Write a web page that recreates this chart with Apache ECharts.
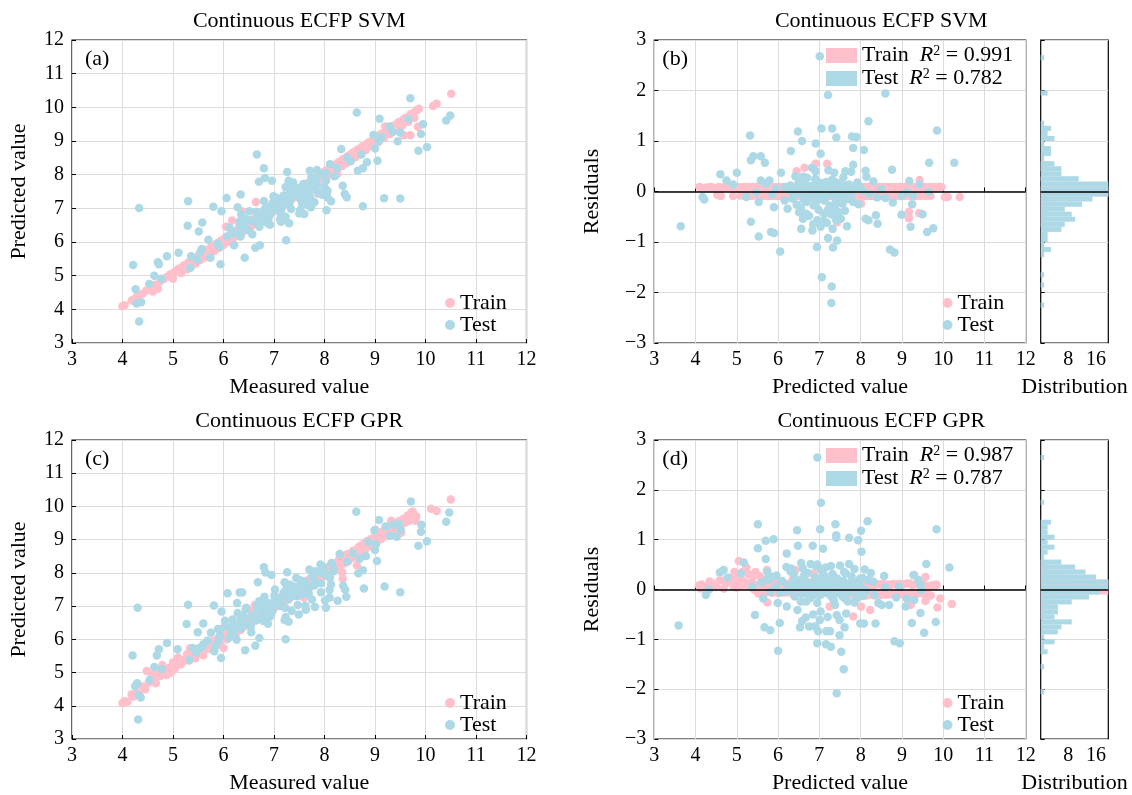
<!DOCTYPE html>
<html>
<head>
<meta charset="utf-8">
<title>Continuous ECFP SVM / GPR</title>
<script src="https://cdn.jsdelivr.net/npm/echarts@6/dist/echarts.min.js"></script>
<style>
  html, body { margin: 0; background: #fff; }
  #chart { width: 1132px; height: 795px; }
</style>
</head>
<body>
<div id="chart"></div>
<script>
// ---- data: [measured, predicted] pairs ----
var svmTrain = [[4.00,4.09],[4.04,4.12],[4.18,4.26],[4.22,4.29],[4.28,4.37],[4.33,4.41],[4.40,4.46],[4.47,4.56],[4.55,4.63],[4.60,4.53],[4.64,4.73],[4.70,4.61],[4.75,4.84],[4.82,4.90],[4.88,4.96],[4.95,5.04],[5.00,4.91],[5.03,5.11],[5.08,5.16],[5.12,5.21],[5.16,5.08],[5.20,5.29],[5.24,5.32],[5.28,5.19],[5.31,5.40],[5.35,5.26],[5.38,5.47],[5.42,5.50],[5.45,5.36],[5.49,5.58],[5.52,5.60],[5.55,5.47],[5.58,5.67],[5.61,5.69],[5.64,5.55],[5.67,5.76],[5.70,5.78],[5.73,5.64],[5.76,5.85],[5.79,5.87],[5.82,5.73],[5.85,5.94],[5.88,5.96],[5.91,5.82],[5.94,6.03],[5.97,6.05],[6.00,5.91],[6.03,6.12],[6.05,6.45],[6.06,6.14],[6.09,6.00],[6.12,6.21],[6.15,6.23],[6.17,6.64],[6.18,6.09],[6.21,6.30],[6.24,6.32],[6.27,6.18],[6.30,6.39],[6.33,6.41],[6.36,6.91],[6.36,6.27],[6.39,6.48],[6.42,6.50],[6.45,6.36],[6.48,6.57],[6.51,6.59],[6.54,6.45],[6.57,6.66],[6.60,6.68],[6.63,6.54],[6.64,7.19],[6.66,6.75],[6.69,6.77],[6.72,6.63],[6.75,6.84],[6.78,6.86],[6.81,6.72],[6.84,6.93],[6.87,6.95],[6.90,6.81],[6.93,7.02],[6.96,7.04],[6.99,6.90],[7.02,7.11],[7.05,7.13],[7.08,6.99],[7.11,7.20],[7.14,7.22],[7.17,7.08],[7.20,7.29],[7.23,7.31],[7.26,7.17],[7.29,7.38],[7.32,7.40],[7.35,7.26],[7.38,7.47],[7.41,7.49],[7.44,7.35],[7.47,7.56],[7.50,7.58],[7.53,7.44],[7.56,7.65],[7.57,7.21],[7.59,7.67],[7.62,7.53],[7.65,7.74],[7.68,7.76],[7.71,7.62],[7.74,7.83],[7.77,7.85],[7.80,7.71],[7.83,7.92],[7.86,7.94],[7.87,7.43],[7.89,7.80],[7.92,8.01],[7.95,8.03],[7.98,7.89],[8.01,8.10],[8.04,7.43],[8.04,8.12],[8.07,7.98],[8.10,8.19],[8.13,8.21],[8.16,8.07],[8.19,8.28],[8.22,8.30],[8.25,8.01],[8.25,8.16],[8.28,8.37],[8.31,8.39],[8.34,8.25],[8.37,8.46],[8.40,8.48],[8.43,8.34],[8.46,8.55],[8.49,8.57],[8.52,8.43],[8.55,8.64],[8.58,8.66],[8.61,8.52],[8.64,8.73],[8.67,8.75],[8.70,8.61],[8.74,8.83],[8.78,8.86],[8.82,8.73],[8.86,8.95],[8.90,8.98],[8.94,8.85],[8.98,9.07],[9.02,9.10],[9.06,8.97],[9.10,9.19],[9.14,9.22],[9.18,9.09],[9.20,9.43],[9.22,9.31],[9.26,9.34],[9.30,9.21],[9.34,9.43],[9.38,9.46],[9.42,9.33],[9.46,9.55],[9.50,9.58],[9.54,9.45],[9.57,9.17],[9.58,9.67],[9.62,9.70],[9.66,9.57],[9.70,9.17],[9.70,9.79],[9.74,9.82],[9.78,9.69],[9.82,9.91],[9.85,9.42],[9.87,9.96],[10.15,10.04],[10.22,10.11],[10.51,10.40]];

var svmTest = [[4.33,7.01],[5.30,7.21],[6.66,8.60],[6.80,8.19],[8.64,9.85],[4.21,5.32],[5.29,6.48],[5.80,7.05],[6.06,7.31],[6.34,7.41],[6.70,7.79],[6.82,7.90],[5.58,6.58],[5.96,6.91],[6.96,7.82],[7.26,8.08],[5.51,6.31],[6.28,7.03],[4.70,5.40],[4.88,5.58],[4.72,5.34],[5.11,5.68],[9.09,9.66],[9.70,10.27],[4.26,4.60],[4.63,5.00],[5.70,6.07],[4.53,4.75],[4.77,4.91],[4.28,4.17],[4.37,4.21],[4.33,3.64],[5.34,5.23],[5.94,5.34],[6.42,5.53],[6.63,5.83],[6.72,5.90],[7.24,6.05],[5.74,5.53],[6.21,5.90],[6.57,6.23],[7.30,6.56],[7.14,6.60],[7.60,6.83],[8.04,6.94],[8.76,7.06],[9.18,7.30],[9.50,7.29],[8.13,7.21],[8.44,7.33],[8.06,7.32],[8.40,7.43],[8.36,7.67],[8.06,7.52],[7.52,6.95],[7.56,7.12],[8.66,8.12],[8.76,8.19],[8.84,8.37],[9.05,8.41],[9.86,8.71],[10.03,8.82],[9.45,8.99],[9.91,9.21],[9.95,9.50],[10.41,9.61],[10.49,9.76],[8.33,8.76],[8.97,9.18],[9.29,9.43],[9.50,9.25],[9.35,9.27],[8.73,8.60],[9.00,8.78],[8.11,8.31],[7.85,8.14],[7.71,8.12],[7.29,7.82],[7.23,7.63],[7.38,7.77],[6.99,7.36],[6.80,7.22],[6.35,6.82],[6.51,6.91],[6.32,6.61],[6.43,6.70],[6.12,6.42],[5.57,5.79],[5.36,5.58],[6.07,6.16],[6.41,6.55],[6.86,7.03],[7.19,7.38],[7.48,7.60],[7.90,7.99],[6.89,6.68],[7.13,6.86],[7.30,7.12],[7.80,7.56],[8.03,7.82],[6.92,6.51],[7.58,7.21],[7.88,7.47],[5.49,5.47],[5.92,5.86],[6.35,6.34],[6.94,6.95],[7.33,7.29],[7.62,7.64],[9.13,9.12],[9.08,8.99],[9.66,9.65],[6.81,6.95],[7.44,7.38],[6.84,6.73],[6.34,6.16],[7.12,6.68],[7.73,7.03],[7.99,7.42],
  [6.20,6.25],[6.37,6.45],[6.59,6.62],[6.72,6.78],[6.86,6.88],[6.98,7.05],[7.08,7.12],[7.09,7.18],[7.24,7.25],[7.28,7.33],[7.32,7.40],[7.44,7.47],[7.49,7.55],[7.66,7.70],[7.78,7.85],[8.03,8.05],[5.89,5.95],[8.45,8.50],
  [6.18,6.30],[6.32,6.50],[6.50,6.65],[6.69,6.80],[6.82,6.98],[6.97,7.10],[6.97,7.16],[7.16,7.27],[7.20,7.35],[7.32,7.44],[7.35,7.52],[7.58,7.72],[7.74,7.92],[5.54,5.70],
  [6.65,6.90],[7.07,7.30],[7.30,7.58],
  [6.45,6.40],[6.66,6.58],[6.75,6.72],[7.02,6.95],[7.10,7.08],[7.29,7.20],[7.40,7.36],[7.56,7.50],[7.70,7.62],[7.83,7.80],[8.25,8.20],
  [6.49,6.35],[6.79,6.62],[6.92,6.80],[7.15,7.00],[7.28,7.15],[7.58,7.40],[7.85,7.70],[8.52,8.40],
  [6.71,6.45],[7.13,6.90],[7.53,7.25],[7.67,7.45],[8.20,7.95],
  [6.88,6.55],[7.34,6.98],[7.70,7.38],[8.00,7.62],
  [7.23,6.75],[7.73,7.28],[7.14,6.62],[7.68,7.10],[7.95,7.40],[7.50,6.85],[7.80,7.18]];

var gprTrain = [[4.00,4.08],[4.04,4.14],[4.10,4.12],[4.18,4.34],[4.22,4.28],[4.28,4.40],[4.33,4.35],[4.40,4.58],[4.45,4.50],[4.48,5.05],[4.52,4.70],[4.58,4.74],[4.59,4.94],[4.62,4.75],[4.66,4.68],[4.70,4.95],[4.75,4.90],[4.78,5.13],[4.79,5.23],[4.82,5.00],[4.88,4.93],[4.92,5.12],[4.96,5.00],[5.00,5.30],[5.03,5.10],[5.08,5.22],[5.10,5.45],[5.12,5.40],[5.16,5.25],[5.20,5.33],[5.24,5.38],[5.28,5.55],[5.32,5.36],[5.34,5.73],[5.36,5.45],[5.40,5.60],[5.44,5.43],[5.48,5.55],[5.52,5.70],[5.56,5.62],[5.60,5.52],[5.64,5.80],[5.68,5.72],[5.72,5.88],[5.76,5.70],[5.80,5.95],[5.84,5.88],[5.88,6.02],[5.92,5.85],[5.96,6.08],[6.00,5.74],[6.03,6.13],[6.03,6.42],[6.07,6.00],[6.11,6.22],[6.15,6.35],[6.18,6.12],[6.22,6.30],[6.26,6.20],[6.30,6.45],[6.34,6.28],[6.38,6.50],[6.42,6.40],[6.46,6.58],[6.50,6.42],[6.54,6.66],[6.54,6.86],[6.58,6.60],[6.62,6.55],[6.62,7.03],[6.66,6.80],[6.70,6.65],[6.74,6.86],[6.78,6.72],[6.82,6.95],[6.85,6.80],[6.88,7.05],[6.92,6.88],[6.96,7.02],[7.00,6.94],[7.03,7.15],[7.06,7.00],[7.09,7.22],[7.12,7.07],[7.15,7.28],[7.18,7.13],[7.21,7.34],[7.24,7.18],[7.27,7.36],[7.30,7.22],[7.33,7.44],[7.36,7.30],[7.39,7.50],[7.42,7.36],[7.45,7.55],[7.48,7.40],[7.51,7.62],[7.54,7.47],[7.57,7.66],[7.59,7.25],[7.60,7.52],[7.63,7.75],[7.66,7.58],[7.69,7.80],[7.72,7.64],[7.75,7.86],[7.78,7.70],[7.81,7.92],[7.84,7.76],[7.87,7.97],[7.90,7.80],[7.93,8.05],[7.96,7.88],[7.99,8.10],[8.02,7.95],[8.05,8.16],[8.08,8.00],[8.11,8.20],[8.14,8.05],[8.17,8.28],[8.20,8.10],[8.23,8.30],[8.26,8.14],[8.29,8.40],[8.32,8.22],[8.35,8.01],[8.36,7.82],[8.38,8.48],[8.41,8.30],[8.44,8.55],[8.47,8.35],[8.50,8.58],[8.53,8.45],[8.56,8.66],[8.59,8.48],[8.62,8.70],[8.64,8.23],[8.65,8.55],[8.68,8.79],[8.72,8.62],[8.76,8.86],[8.80,8.70],[8.84,8.95],[8.88,8.80],[8.92,9.02],[8.96,8.88],[9.00,9.12],[9.01,9.30],[9.04,8.95],[9.08,9.20],[9.12,9.02],[9.16,9.25],[9.20,9.10],[9.24,9.35],[9.28,9.18],[9.32,9.42],[9.32,9.57],[9.36,9.28],[9.40,9.50],[9.44,9.35],[9.48,9.56],[9.52,9.21],[9.52,9.45],[9.56,9.62],[9.60,9.52],[9.64,9.72],[9.68,9.58],[9.72,9.82],[9.75,9.84],[9.76,9.65],[9.80,9.57],[9.82,9.70],[10.11,9.93],[10.22,9.86],[10.50,10.21]];

var gprTest = [[4.30,6.95],[5.30,7.04],[4.20,5.51],[6.08,7.39],[6.80,8.17],[8.63,9.84],[5.27,6.46],[5.81,7.02],[6.83,8.01],[6.32,7.41],[6.37,7.41],[6.68,7.72],[6.95,7.94],[4.72,5.70],[4.88,5.89],[5.60,6.48],[5.96,6.84],[6.27,7.09],[4.68,5.51],[5.49,6.21],[7.26,8.02],[5.09,5.70],[4.63,5.17],[9.08,9.59],[9.71,10.15],[6.28,6.79],[6.44,6.91],[6.81,7.28],[7.21,7.72],[6.03,6.56],[4.25,4.59],[4.29,4.68],[4.54,4.78],[4.78,5.10],[5.39,5.74],[5.68,5.96],[5.89,6.31],[7.70,8.10],[8.30,8.57],[8.99,9.28],[4.32,4.32],[4.36,4.25],[4.31,3.59],[5.95,5.44],[6.43,5.67],[6.63,5.81],[6.71,6.04],[7.23,6.00],[7.29,6.53],[7.21,6.58],[7.23,6.67],[7.49,6.75],[7.63,6.89],[7.81,6.97],[8.03,6.95],[8.26,7.16],[8.43,7.28],[8.01,7.17],[8.10,7.26],[7.62,7.01],[7.93,7.42],[8.10,7.49],[8.37,7.61],[8.41,7.49],[8.78,7.53],[9.19,7.59],[9.50,7.42],[8.67,7.99],[8.76,8.08],[9.04,8.36],[9.86,8.82],[10.03,8.95],[9.91,9.24],[9.92,9.45],[10.41,9.54],[10.47,9.82],[9.43,9.09],[9.51,9.30],[8.82,8.51],[9.00,8.69],[9.02,8.86],[8.87,8.93],[9.36,9.45],[9.21,9.40],[9.48,9.47],[8.45,8.34],[7.98,8.17],[7.77,7.99],[7.32,7.64],[7.21,7.43],[6.81,7.03],[6.36,6.68],[6.06,6.38],[5.52,5.74],[5.32,5.38],[5.82,5.64],[6.26,5.99],[6.55,6.21],[6.88,6.47],[6.92,6.68],[7.47,7.03],[7.69,7.38],[7.93,7.69],[8.08,7.90],[6.33,6.42],[6.83,6.95],[7.28,7.34],[7.61,7.73],[5.85,5.81],[6.97,6.86],[7.29,7.21],[7.70,7.56],[6.76,6.68],[6.20,6.16],[8.70,8.43],[9.30,9.12],[5.58,5.77],
  [5.75,6.20],[6.18,6.60],[6.45,6.95],[6.71,7.15],[7.02,7.50],[7.44,7.85],
  [5.94,6.30],[6.39,6.72],[6.67,7.05],[7.01,7.32],[7.25,7.60],[7.92,8.25],
  [5.60,5.85],[6.18,6.40],[6.35,6.62],[6.66,6.90],[6.84,7.12],[7.19,7.40],[7.52,7.78],[7.82,8.05],
  [5.46,5.60],[5.93,6.10],[6.23,6.35],[6.34,6.52],[6.55,6.70],[6.74,6.85],[6.84,7.00],[6.97,7.10],[7.03,7.22],[7.18,7.30],[7.30,7.45],[7.41,7.58],[7.59,7.70],[7.76,7.90],[8.14,8.30],
  [5.90,5.95],[6.17,6.25],[6.45,6.48],[6.59,6.65],[6.78,6.80],[6.91,6.98],[7.04,7.08],[7.11,7.20],[7.35,7.36],[7.45,7.50],[7.57,7.65],[7.79,7.82],[7.94,8.00],[8.56,8.60],
  [6.11,6.05],[6.35,6.32],[6.66,6.58],[6.80,6.75],[6.94,6.92],[7.14,7.05],[7.29,7.25],[7.47,7.40],[7.58,7.55],[7.81,7.75],[8.03,7.95],[8.17,8.15],
  [6.54,6.40],[6.95,6.78],[7.12,7.00],[7.45,7.30],[7.80,7.62],[8.18,8.05],
  [6.79,6.55],[7.22,6.95],[7.57,7.35],[8.11,7.85],
  [7.35,6.85],[7.75,7.20],[8.13,7.65]];

var modelNames = ['SVM', 'GPR'];
var r2Train = [0.991, 0.987];
var r2Test = [0.782, 0.787];
var panelTags = ['(a)', '(b)', '(c)', '(d)'];

var PINK = '#ffc0cb', BLUE = '#add8e6';
var FONT = 'Liberation Serif';
var FS = 20;   // tick labels
var FT = 22;   // titles, axis names, legends

// residual = predicted - measured, plotted against predicted
function toResidual(pairs) {
  return pairs.map(function (p) { return [p[1], Math.round((p[1] - p[0]) * 1000) / 1000]; });
}

// horizontal histogram of residuals, 0.1 wide bins
function toHistogram(pairs) {
  var w = 0.1, lo = -3, n = 60, counts = [];
  for (var i = 0; i < n; i++) counts.push(0);
  pairs.forEach(function (p) {
    var k = Math.floor(((p[1] - p[0]) - lo) / w + 1e-6);
    if (k >= 0 && k < n) counts[k]++;
  });
  var bins = [];
  counts.forEach(function (c, k) {
    if (c > 0) bins.push([c, lo + k * w, lo + (k + 1) * w]);
  });
  return bins;
}

function drawBin(params, api) {
  var p0 = api.coord([0, api.value(1)]);
  var p1 = api.coord([api.value(0), api.value(2)]);
  var cs = params.coordSys;
  var shape = echarts.graphic.clipRectByRect(
    { x: p0[0], y: p1[1], width: p1[0] - p0[0], height: p0[1] - p1[1] },
    { x: cs.x, y: cs.y, width: cs.width, height: cs.height }
  );
  return shape && { type: 'rect', shape: shape, style: { fill: api.visual('color') } };
}

function minusFmt(v) { return v < 0 ? '\u2212' + (-v) : String(v); }

function axis(gridIndex, min, max, interval, extra) {
  var a = {
    type: 'value', gridIndex: gridIndex, min: min, max: max, interval: interval,
    axisLine: { show: false },
    axisTick: { show: true, inside: true, length: 4, lineStyle: { color: '#000', width: 1 } },
    axisLabel: { color: '#000', fontFamily: FONT, fontSize: FS, margin: 7, formatter: minusFmt },
    splitLine: { show: true, lineStyle: { color: '#dcdcdc', width: 1 } },
    nameLocation: 'middle',
    nameTextStyle: { color: '#000', fontFamily: FONT, fontSize: FT }
  };
  for (var k in extra) a[k] = extra[k];
  return a;
}

var rowTop = [40, 440];
var H = 303;
var colA = { left: 72, width: 454.5 };
var colB = { left: 654.3, width: 371.4 };
var colH = { left: 1040.7, width: 67.6 };
var HIST_MAX = 19.6;

var grids = [], xAxes = [], yAxes = [], series = [], legends = [], graphics = [];

modelNames.forEach(function (m, r) {
  var top = rowTop[r];
  var train = r === 0 ? svmTrain : gprTrain;
  var test = r === 0 ? svmTest : gprTest;
  var g0 = r * 3;

  [colA, colB, colH].forEach(function (c) {
    grids.push({ left: c.left, top: top, width: c.width, height: H, show: true,
      borderColor: '#000', borderWidth: 1.2, backgroundColor: 'transparent' });
  });

  // parity panel
  xAxes.push(axis(g0, 3, 12, 1, { name: 'Measured value', nameGap: 33 }));
  yAxes.push(axis(g0, 3, 12, 1, { name: 'Predicted value', nameGap: 42, axisLabel: { color: '#000', fontFamily: FONT, fontSize: FS, margin: 8 } }));
  // residual panel
  xAxes.push(axis(g0 + 1, 3, 12, 1, { name: 'Predicted value', nameGap: 33 }));
  yAxes.push(axis(g0 + 1, -3, 3, 1, { name: 'Residuals', nameGap: 51, axisLabel: { color: '#000', fontFamily: FONT, fontSize: FS, margin: 8, formatter: minusFmt } }));
  // distribution panel
  xAxes.push(axis(g0 + 2, 0, HIST_MAX, 8, {
    name: 'Distribution', nameGap: 33,
    splitLine: { show: false },
    axisLabel: { color: '#000', fontFamily: FONT, fontSize: FS, margin: 7,
      formatter: function (v) { return (v === 8 || v === 16) ? String(v) : ''; } }
  }));
  yAxes.push(axis(g0 + 2, -3, 3, 1, { axisLabel: { show: false } }));

  function sc(name, color, xi, data, extra) {
    var s = { name: name, type: 'scatter', symbolSize: 8.5, xAxisIndex: xi, yAxisIndex: xi,
      itemStyle: { color: color, opacity: 1 }, data: data, silent: true };
    for (var k in extra) s[k] = extra[k];
    return s;
  }
  var zeroLine = { silent: true, symbol: 'none', label: { show: false },
    lineStyle: { color: '#000', width: 1.6, type: 'solid' }, data: [{ yAxis: 0 }], animation: false };

  series.push(sc('Train', PINK, g0, train));
  series.push(sc('Test', BLUE, g0, test));
  series.push(sc('Train', PINK, g0 + 1, toResidual(train)));
  series.push(sc('Test', BLUE, g0 + 1, toResidual(test), { markLine: zeroLine }));

  series.push({ name: 'Train R2 ' + m, type: 'custom', xAxisIndex: g0 + 2, yAxisIndex: g0 + 2,
    renderItem: drawBin, itemStyle: { color: PINK }, encode: { x: 0, y: [1, 2] },
    data: toHistogram(train), silent: true });
  series.push({ name: 'Test R2 ' + m, type: 'custom', xAxisIndex: g0 + 2, yAxisIndex: g0 + 2,
    renderItem: drawBin, itemStyle: { color: BLUE }, encode: { x: 0, y: [1, 2] },
    data: toHistogram(test), silent: true, markLine: zeroLine });

  var legText = { color: '#000', fontFamily: FONT, fontSize: FT };
  legends.push({ orient: 'vertical', left: 440, top: top + 247, data: ['Train', 'Test'],
    icon: 'circle', itemWidth: 10, itemHeight: 10, itemGap: 0, textStyle: legText, selectedMode: false });
  legends.push({ orient: 'vertical', left: 937.5, top: top + 247, data: ['Train', 'Test'],
    icon: 'circle', itemWidth: 10, itemHeight: 10, itemGap: 0, textStyle: legText, selectedMode: false });
  legends.push({
    orient: 'vertical', left: 821, top: top - 0.5, data: ['Train R2 ' + m, 'Test R2 ' + m],
    icon: 'rect', itemWidth: 31, itemHeight: 15, itemGap: 1, selectedMode: false,
    formatter: function (name) {
      var isTrain = name.indexOf('Train') === 0;
      var v = (isTrain ? r2Train[r] : r2Test[r]).toFixed(3);
      return '{n|' + (isTrain ? 'Train' : 'Test') + '  }{i|R}{s|2}{n| = ' + v + '}';
    },
    textStyle: {
      color: '#000', fontFamily: FONT, fontSize: FT,
      rich: {
        n: { color: '#000', fontFamily: FONT, fontSize: FT },
        i: { color: '#000', fontFamily: FONT, fontSize: FT, fontStyle: 'italic' },
        s: { color: '#000', fontFamily: FONT, fontSize: 14, verticalAlign: 'top' }
      }
    }
  });

  var titleY = top - 19;
  var tFont = FT + 'px "' + FONT + '"';
  graphics.push({ type: 'text', x: colA.left + colA.width / 2, y: titleY,
    style: { text: 'Continuous ECFP ' + m, font: tFont, fill: '#000', align: 'center', verticalAlign: 'middle' } });
  graphics.push({ type: 'text', x: (colB.left + colH.left + colH.width) / 2, y: titleY,
    style: { text: 'Continuous ECFP ' + m, font: tFont, fill: '#000', align: 'center', verticalAlign: 'middle' } });
  graphics.push({ type: 'text', x: colA.left + 13, y: top + 19,
    style: { text: panelTags[r * 2], font: tFont, fill: '#000', align: 'left', verticalAlign: 'middle' } });
  graphics.push({ type: 'text', x: colB.left + 8, y: top + 19,
    style: { text: panelTags[r * 2 + 1], font: tFont, fill: '#000', align: 'left', verticalAlign: 'middle' } });
});

var chart = echarts.init(document.getElementById('chart'), null, { renderer: 'canvas' });
chart.setOption({
  animation: false,
  backgroundColor: '#fff',
  textStyle: { fontFamily: FONT },
  grid: grids,
  xAxis: xAxes,
  yAxis: yAxes,
  legend: legends,
  graphic: graphics,
  series: series
});
</script>
</body>
</html>
